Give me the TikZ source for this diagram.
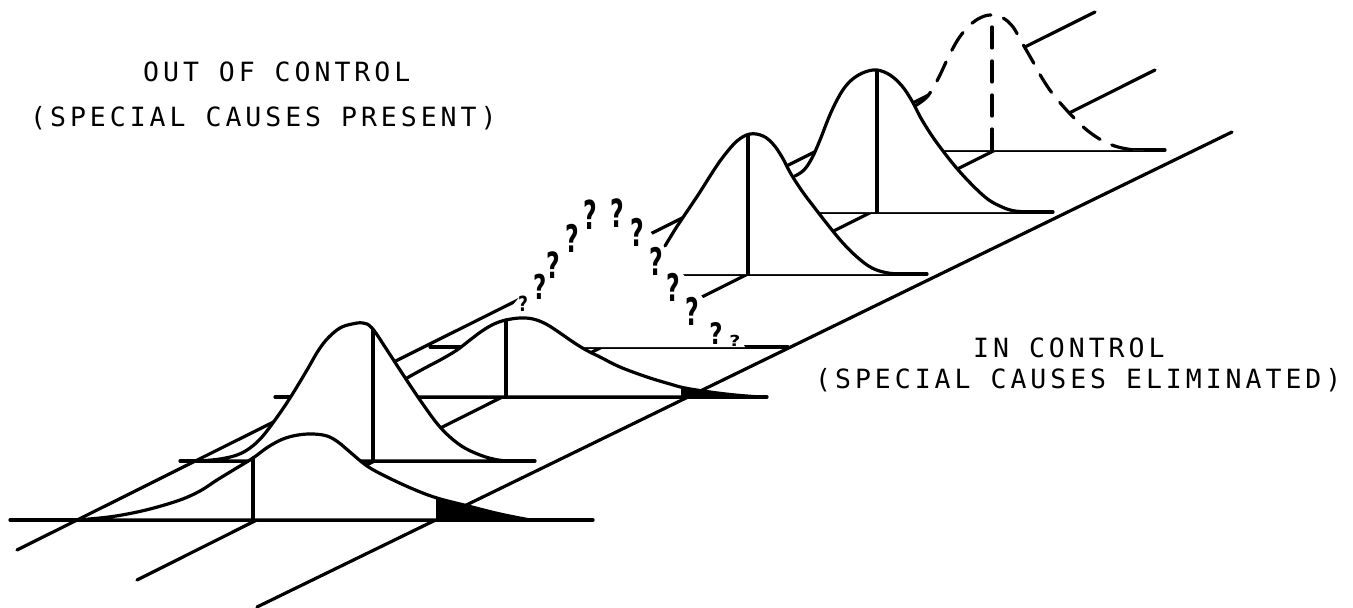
\documentclass[tikz,border=0pt]{standalone}
\usepackage{fontspec}
\newfontfamily\labelfont[LetterSpace=15]{DejaVu Sans Mono}
\newfontfamily\qfont{DejaVu Sans}
\begin{document}
\begin{tikzpicture}[x=1pt,y=-1pt,
  ln/.style={line width=3.2pt, line cap=round, line join=round},
  rail/.style={ln},
  base/.style={ln},
  curve/.style={ln},
  dcurve/.style={ln, dash pattern=on 21pt off 13pt},
  mask/.style={fill=white},
  tail/.style={fill=black},
  qm/.style={font=\qfont\bfseries\fontsize{38}{38}\selectfont, inner sep=0pt},
  lab/.style={font=\labelfont\fontsize{26.5}{30}\selectfont, inner sep=0pt, anchor=base west}]
\useasboundingbox (0,0) rectangle (1353,608);

% ---- rails (ground lines) ----
\coordinate (L0) at (17,550);  \coordinate (L1) at (1095,12);
\coordinate (M0) at (137,580); \coordinate (M1) at (1155,70);
\coordinate (R0) at (257,607); \coordinate (R1) at (1232,132);
\draw[rail] (L0) -- (L1);
\draw[rail] (M0) -- (M1);
\draw[rail] (R0) -- (R1);

% ---- station D (dashed, back) ----
\draw[base] (940,150) -- (1165,150);
\fill[mask] plot[smooth,tension=0.6] coordinates {(915,106) (926,98) (933,88) (940,75) (947,60) (957,41) (967,28) (978,19) (990,15) (1003,18) (1013,27) (1021,41) (1032,60) (1042,78) (1052,93) (1062,105) (1074,118) (1088,131) (1103,141) (1118,147) (1135,150) (1148,150)} -- (915,150) -- cycle;
\draw[dcurve] plot[smooth,tension=0.6] coordinates {(915,106) (926,98) (933,88) (940,75) (947,60) (957,41) (967,28) (978,19) (990,15) (1003,18) (1013,27) (1021,41) (1032,60) (1042,78) (1052,93) (1062,105) (1074,118) (1088,131) (1103,141) (1118,147) (1135,150) (1148,150)};
\draw[dcurve] (992,150) -- (992,16);

% ---- station T3 ----
\draw[base] (817,212) -- (1053,212);
\fill[mask] plot[smooth,tension=0.6] coordinates {(795,176) (804,170) (812,158) (820,140) (829,117) (837,100) (845,87) (854,78) (865,72) (877,70) (890,75) (902,86) (912,101) (922,120) (937,143) (960,172) (985,197) (1002,207) (1015,211) (1030,212)} -- (795,212) -- cycle;
\draw[curve] plot[smooth,tension=0.6] coordinates {(795,176) (804,170) (812,158) (820,140) (829,117) (837,100) (845,87) (854,78) (865,72) (877,70) (890,75) (902,86) (912,101) (922,120) (937,143) (960,172) (985,197) (1002,207) (1015,211) (1030,212)};
\draw[ln] (877,212) -- (877,71);

% ---- station T2 ----
\draw[base] (680,274) -- (927,274);
\fill[mask] plot[smooth,tension=0.6] coordinates {(665,246) (676,228) (688,210) (700,192) (712,173) (723,157) (737,141) (750,134) (763,136) (773,144) (782,157) (791,174) (802,191) (814,207) (828,225) (842,242) (857,257) (872,268) (888,273) (905,274)} -- (665,274) -- cycle;
\draw[curve] plot[smooth,tension=0.6] coordinates {(665,246) (676,228) (688,210) (700,192) (712,173) (723,157) (737,141) (750,134) (763,136) (773,144) (782,157) (791,174) (802,191) (814,207) (828,225) (842,242) (857,257) (872,268) (888,273) (905,274)};
\draw[ln] (748,274) -- (748,135);

% ---- station Q (unknown distribution) ----
\draw[base] (430,347) -- (788,347);
\fill[mask] (505,347) -- (513,305) -- plot[smooth,tension=0.6] coordinates {(517,300) (530,284) (550,258) (570,232) (590,210) (615,203) (637,218) (652,234) (678,268) (703,298) (725,325) (742,342)} -- (745,347) -- cycle;

% ---- station S2 ----
\draw[base] (275,397) -- (767,397);
\filldraw[ln, fill=white] plot[smooth,tension=0.6] coordinates {(355,397) (375,394) (392,387) (407,378) (425,368) (442,359) (457,350) (470,340) (482,331) (494,324) (506,320) (520,318) (533,319) (546,324) (560,333) (573,342) (586,350) (600,357) (620,367) (647,377) (670,384) (685,388) (710,392) (735,395) (760,397)} -- cycle;
\fill[tail] (681,397) -- (681,387) -- (705,391) -- (730,394) -- (757,397) -- cycle;
\draw[ln] (506,397) -- (506,320);

% ---- station T1 ----
\draw[base] (180,461) -- (535,461);
\filldraw[ln, fill=white] plot[smooth,tension=0.6] coordinates {(200,461) (220,459) (237,455) (250,448) (262,437) (275,420) (290,398) (307,370) (318,351) (328,338) (340,328) (352,324) (363,323) (372,328) (387,350) (400,370) (420,400) (440,427) (460,445) (480,455) (498,460) (512,461)} -- cycle;
\draw[ln] (373,461) -- (373,330);

% ---- station S1 (front) ----
\draw[base] (10,520) -- (593,520);
\filldraw[ln, fill=white] plot[smooth,tension=0.6] coordinates {(77,520) (100,518) (122,515) (150,509) (180,500) (200,491) (217,480) (235,469) (253,458) (268,447) (283,439) (298,435) (313,434) (327,436) (338,442) (350,452) (367,466) (387,477) (413,489) (437,498) (468,506) (500,514) (530,520)} -- cycle;
\fill[tail] (436,520) -- (436,498) -- (468,506) -- (500,514) -- (530,520) -- cycle;
\draw[ln] (253,520) -- (253,458);

% ---- question marks ----
\node[qm, xscale=0.45, yscale=0.55] (q1) at (523,304) {?};
\node[qm, xscale=0.6, yscale=0.9] (q2) at (540,287) {?};
\node[qm, xscale=0.62, yscale=0.95] (q3) at (553,265) {?};
\node[qm, xscale=0.62, yscale=1] (q4) at (572,238) {?};
\node[qm, xscale=0.62, yscale=1.05] (q5) at (590,215) {?};
\node[qm, xscale=0.62, yscale=1.02] (q6) at (617,213) {?};
\node[qm, xscale=0.62, yscale=1] (q7) at (637,232) {?};
\node[qm, xscale=0.62, yscale=1] (q8) at (656,261) {?};
\node[qm, xscale=0.62, yscale=1] (q9) at (673,287) {?};
\node[qm, xscale=0.62, yscale=1] (q10) at (692,311) {?};
\node[qm, xscale=0.6, yscale=0.78] (q11) at (716,333) {?};
\node[qm, xscale=0.5, yscale=0.4] (q12) at (735,341) {?};

% ---- labels ----
\node[lab] (t1) at (143,81) {OUT OF CONTROL};
\node[lab] (t2) at (30,126) {(SPECIAL CAUSES PRESENT)};
\node[lab] (t3) at (973,357) {IN CONTROL};
\node[lab] (t4) at (815,388) {(SPECIAL CAUSES ELIMINATED)};
\end{tikzpicture}
\end{document}
